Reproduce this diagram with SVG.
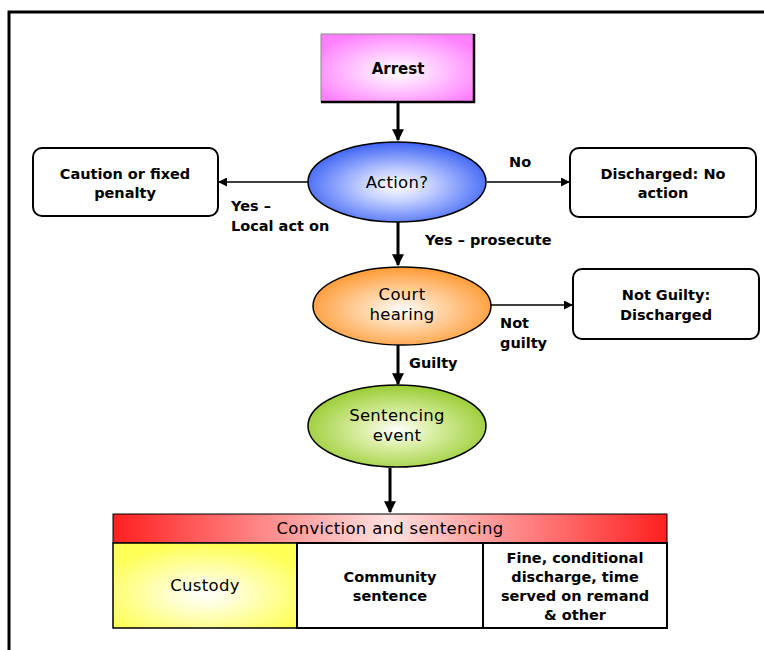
<svg xmlns="http://www.w3.org/2000/svg" width="764" height="650" viewBox="0 0 764 650">
  <style>
    text { font-family: "DejaVu Sans", "Liberation Sans", sans-serif; fill: #000; text-anchor: middle; }
    .b { font-weight: bold; font-size: 14.5px; }
    .r { font-size: 16.5px; letter-spacing: 0.3px; }
    .lbl { font-weight: bold; font-size: 14.5px; text-anchor: start; }
    .box { fill: #fff; stroke: #000; stroke-width: 2; }
    .thick { stroke: #000; stroke-width: 3; fill: none; }
    .thin { stroke: #000; stroke-width: 1.5; fill: none; }
    .ell { stroke: #000; stroke-width: 1.5; }
  </style>
  <defs>
    <radialGradient id="gPink" cx="0.5" cy="0.55" r="0.6">
      <stop offset="0" stop-color="#ffffff"/>
      <stop offset="0.35" stop-color="#ffd6ff"/>
      <stop offset="1" stop-color="#ff80ff"/>
    </radialGradient>
    <radialGradient id="gBlue" cx="0.5" cy="0.55" r="0.55">
      <stop offset="0" stop-color="#ffffff"/>
      <stop offset="0.35" stop-color="#c4d0ff"/>
      <stop offset="1" stop-color="#3d63f5"/>
    </radialGradient>
    <radialGradient id="gOrange" cx="0.5" cy="0.55" r="0.55">
      <stop offset="0" stop-color="#ffffff"/>
      <stop offset="0.35" stop-color="#ffd9b0"/>
      <stop offset="1" stop-color="#ff9a33"/>
    </radialGradient>
    <radialGradient id="gGreen" cx="0.5" cy="0.55" r="0.55">
      <stop offset="0" stop-color="#ffffff"/>
      <stop offset="0.35" stop-color="#dcefa8"/>
      <stop offset="1" stop-color="#99cc33"/>
    </radialGradient>
    <linearGradient id="gRed" x1="0" y1="0" x2="1" y2="0">
      <stop offset="0" stop-color="#ff2020"/>
      <stop offset="0.5" stop-color="#ffe0e0"/>
      <stop offset="1" stop-color="#ff2020"/>
    </linearGradient>
    <radialGradient id="gYellow" cx="0.5" cy="0.6" r="0.6">
      <stop offset="0" stop-color="#ffffff"/>
      <stop offset="0.3" stop-color="#ffffd0"/>
      <stop offset="1" stop-color="#ffff55"/>
    </radialGradient>
    <marker id="ah" viewBox="0 0 10 10" refX="9" refY="5" markerWidth="4" markerHeight="4" orient="auto" markerUnits="strokeWidth">
      <path d="M0,0 L10,5 L0,10 z" fill="#000"/>
    </marker>
    <marker id="ahs" viewBox="0 0 10 10" refX="9" refY="5" markerWidth="6" markerHeight="6" orient="auto" markerUnits="strokeWidth">
      <path d="M0,0 L10,5 L0,10 z" fill="#000"/>
    </marker>
  </defs>

  <!-- outer frame: top and left edges -->
  <path d="M9,650 V12 H764" fill="none" stroke="#000" stroke-width="3"/>

  <!-- connectors -->
  <g id="connectors">
    <line class="thick" x1="398" y1="102" x2="398" y2="140" marker-end="url(#ah)"/>
    <line class="thin" x1="308" y1="182" x2="219" y2="182" marker-end="url(#ahs)"/>
    <line class="thin" x1="487" y1="182" x2="569" y2="182" marker-end="url(#ahs)"/>
    <line class="thick" x1="398" y1="222" x2="398" y2="265" marker-end="url(#ah)"/>
    <line class="thin" x1="491" y1="305" x2="572" y2="305" marker-end="url(#ahs)"/>
    <line class="thick" x1="398" y1="345" x2="398" y2="384" marker-end="url(#ah)"/>
    <line class="thick" x1="390" y1="468" x2="390" y2="512" marker-end="url(#ah)"/>
    <text class="lbl" x="231" y="211">Yes –</text>
    <text class="lbl" x="231" y="231">Local act on</text>
    <text class="lbl" x="509" y="167">No</text>
    <text class="lbl" x="425" y="245">Yes – prosecute</text>
    <text class="lbl" x="500" y="328">Not</text>
    <text class="lbl" x="500" y="348">guilty</text>
    <text class="lbl" x="409" y="368">Guilty</text>
  </g>

  <g id="arrest">
    <rect x="321" y="34" width="153" height="68" fill="url(#gPink)"/>
    <path d="M321,102 V34 H474" fill="none" stroke="#888" stroke-width="1"/>
    <path d="M474,34 V102 H321" fill="none" stroke="#000" stroke-width="2.5"/>
    <text class="b" x="398" y="74" style="font-size:15px">Arrest</text>
  </g>

  <g id="action">
    <ellipse class="ell" cx="397" cy="182" rx="89" ry="40" fill="url(#gBlue)"/>
    <text class="r" x="397" y="188">Action?</text>
  </g>

  <g id="caution">
    <rect class="box" x="33" y="148" width="185" height="68" rx="9"/>
    <text class="b" x="125" y="179">Caution or fixed</text>
    <text class="b" x="125" y="198">penalty</text>
  </g>

  <g id="discharged-no-action">
    <rect class="box" x="570" y="148" width="186" height="69" rx="9"/>
    <text class="b" x="663" y="179">Discharged: No</text>
    <text class="b" x="663" y="198">action</text>
  </g>

  <g id="court">
    <ellipse class="ell" cx="402" cy="306" rx="89" ry="39" fill="url(#gOrange)"/>
    <text class="r" x="402" y="300">Court</text>
    <text class="r" x="402" y="320">hearing</text>
  </g>

  <g id="not-guilty">
    <rect class="box" x="573" y="269" width="186" height="70" rx="9"/>
    <text class="b" x="666" y="300">Not Guilty:</text>
    <text class="b" x="666" y="320">Discharged</text>
  </g>

  <g id="sentencing">
    <ellipse class="ell" cx="397" cy="426" rx="89" ry="41" fill="url(#gGreen)"/>
    <text class="r" x="397" y="421">Sentencing</text>
    <text class="r" x="397" y="441">event</text>
  </g>

  <g id="conviction">
    <rect x="113" y="514" width="554" height="29" fill="url(#gRed)" stroke="#000" stroke-width="1"/>
    <text class="r" x="390" y="534">Conviction and sentencing</text>
  </g>

  <g id="custody">
    <rect x="113" y="543" width="184" height="85" fill="url(#gYellow)" stroke="#000" stroke-width="1.5"/>
    <text class="r" x="205" y="591">Custody</text>
  </g>

  <g id="community">
    <rect x="297" y="543" width="186" height="85" fill="#fff" stroke="#000" stroke-width="2"/>
    <text class="b" x="390" y="582">Community</text>
    <text class="b" x="390" y="601">sentence</text>
  </g>

  <g id="fine">
    <rect x="483" y="543" width="184" height="85" fill="#fff" stroke="#000" stroke-width="2"/>
    <text class="b" x="575" y="563">Fine, conditional</text>
    <text class="b" x="575" y="582">discharge, time</text>
    <text class="b" x="575" y="601">served on remand</text>
    <text class="b" x="575" y="620">&amp; other</text>
  </g>
</svg>
